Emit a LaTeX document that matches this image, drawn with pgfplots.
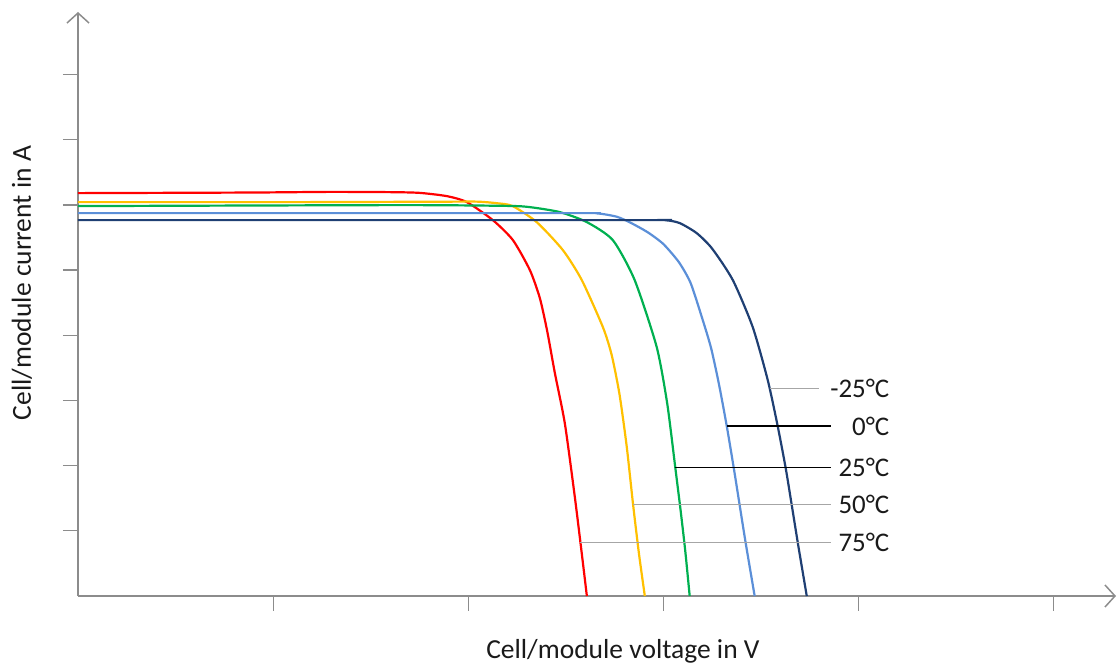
\documentclass[border=0pt]{standalone}
\usepackage{pgfplots}
\pgfplotsset{compat=1.18}
\usepackage{fontspec}
\setmainfont{Carlito}
\usetikzlibrary{arrows.meta}

\definecolor{cRed}{HTML}{FF0000}
\definecolor{cYellow}{HTML}{FFC000}
\definecolor{cGreen}{HTML}{00B050}
\definecolor{cLight}{HTML}{5B8FD8}
\definecolor{cDark}{HTML}{1F3F73}
\definecolor{axgray}{HTML}{8C8C8C}
\definecolor{leadgray}{HTML}{A6A6A6}
\definecolor{txt}{HTML}{1A1A1A}

\begin{document}
\begin{tikzpicture}
\useasboundingbox (-39bp,-37.5bp) rectangle (520bp,298bp);
\begin{axis}[
    scale only axis,
    width=519bp, height=292bp,
    xmin=0, xmax=5.32, ymin=0, ymax=8.96,
    axis lines=left,
    axis line style={axgray, line width=0.75bp, -{Straight Barb[length=5bp,width=11bp]}},
    every outer x axis line/.append style={-{Straight Barb[length=5bp,width=11bp]}},
    every outer y axis line/.append style={-{Straight Barb[length=5bp,width=11bp]}},
    xtick={1,2,3,4,5}, ytick={1,2,3,4,5,6,7,8},
    xticklabels={}, yticklabels={},
    tick align=outside,
    major tick length=7.5bp,
    tick style={axgray, line width=0.6bp},
    clip=false,
    xlabel={Cell/module voltage in V},
    ylabel={Cell/module current in A},
    label style={font=\fontsize{13.8}{16}\selectfont, text=txt},
    xlabel style={at={(axis description cs:0.525,-0.094)}, anchor=center},
    ylabel style={at={(axis description cs:-0.054,0.536)}, anchor=center},
    every axis plot/.append style={line width=1.1bp, smooth, tension=0.4},
]
% 75 C
\addplot[cRed] coordinates {
(0,6.181) (0.881,6.190) (1.291,6.200) (1.600,6.196) (1.750,6.185) (1.890,6.135) (1.993,6.043)
(2.126,5.767) (2.229,5.460) (2.316,5.000) (2.367,4.571) (2.405,4.060) (2.444,3.420) (2.495,2.650)
(2.545,1.550) (2.580,0.700) (2.608,0)
};
% 50 C
\addplot[cYellow] coordinates {
(0,6.043) (1.137,6.043) (1.900,6.050) (2.050,6.050) (2.150,6.025) (2.228,5.982) (2.351,5.736)
(2.485,5.307) (2.582,4.847) (2.690,4.126) (2.735,3.700) (2.775,3.100) (2.812,2.300)
(2.845,1.400) (2.875,0.650) (2.905,0)
};
% 25 C
\addplot[cGreen] coordinates {
(0,5.982) (1.650,5.997) (2.200,5.985) (2.316,5.966) (2.469,5.890) (2.608,5.736) (2.741,5.460)
(2.853,4.847) (2.966,3.819) (3.020,2.950) (3.060,2.000) (3.087,1.350) (3.112,0.700) (3.135,0)
};
% 0 C
\addplot[cLight] coordinates {
(0,5.874) (2.500,5.874) (2.660,5.870) (2.760,5.820) (2.830,5.730) (2.920,5.580) (3.000,5.400)
(3.080,5.120) (3.140,4.800) (3.202,4.233) (3.245,3.800) (3.285,3.250) (3.325,2.607)
(3.361,1.963) (3.391,1.396) (3.422,0.813) (3.468,0)
};
% -25 C
\addplot[cDark] coordinates {
(0,5.767) (2.850,5.767) (3.010,5.765) (3.084,5.721) (3.171,5.567) (3.250,5.330) (3.356,4.847)
(3.458,4.126) (3.535,3.313) (3.586,2.607) (3.627,1.963) (3.658,1.396) (3.690,0.800) (3.735,0)
};
% leader lines
\addplot[leadgray, line width=0.7bp, sharp plot] coordinates {(3.545,3.18) (3.80,3.18)};
\addplot[black, line width=0.7bp, sharp plot] coordinates {(3.325,2.607) (3.857,2.607)};
\addplot[black, line width=0.7bp, sharp plot] coordinates {(3.061,1.974) (3.857,1.974)};
\addplot[leadgray, line width=0.7bp, sharp plot] coordinates {(2.845,1.40) (3.857,1.40)};
\addplot[leadgray, line width=0.7bp, sharp plot] coordinates {(2.575,0.818) (3.857,0.818)};
\begin{scope}[every node/.style={anchor=east, inner sep=0pt, text=txt, font=\fontsize{13.5}{16}\selectfont}]
\node at (axis cs:4.16,3.18) {-25°C};
\node at (axis cs:4.16,2.607) {0°C};
\node at (axis cs:4.16,1.974) {25°C};
\node at (axis cs:4.16,1.40) {50°C};
\node at (axis cs:4.16,0.818) {75°C};
\end{scope}
\end{axis}
\end{tikzpicture}
\end{document}
